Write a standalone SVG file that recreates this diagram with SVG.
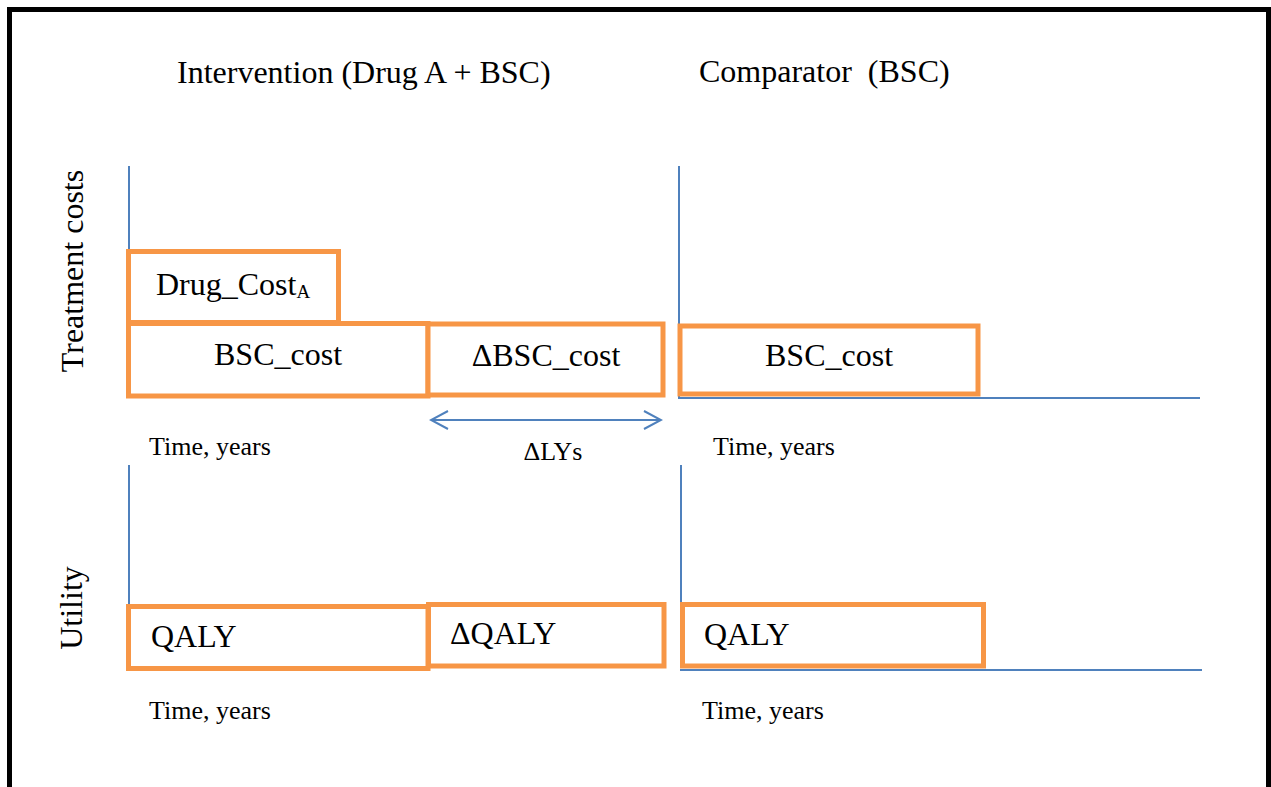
<svg xmlns="http://www.w3.org/2000/svg" width="1271" height="787" viewBox="0 0 1271 787">
  <style>
    text { font-family: "Liberation Serif", "Times New Roman", serif; fill: #000; }
    .title { font-size: 32px; }
    .axis-label { font-size: 32px; }
    .box-label { font-size: 32px; }
    .small { font-size: 26px; }
    .sub { font-size: 19px; }
    .bar { fill: #fff; stroke: #F79646; stroke-width: 5; }
    .axis { stroke: #4F81BD; stroke-width: 2; fill: none; }
  </style>
  <defs>
    <marker id="chevron" viewBox="0 0 20 20" refX="18" refY="10" markerWidth="20" markerHeight="20" markerUnits="userSpaceOnUse" orient="auto-start-reverse">
      <path d="M1,1 L18,10 L1,19" fill="none" stroke="#4F81BD" stroke-width="2"/>
    </marker>
  </defs>

  <rect x="0" y="0" width="1271" height="787" fill="#fff"/>
  <!-- outer frame (bottom edge runs past the page) -->
  <rect x="9.5" y="9.5" width="1259" height="800" fill="none" stroke="#000" stroke-width="5"/>

  <!-- column headings -->
  <text class="title" x="177" y="83">Intervention (Drug A + BSC)</text>
  <text class="title" x="699" y="82" xml:space="preserve">Comparator  (BSC)</text>

  <!-- row headings -->
  <text class="axis-label" transform="translate(83,271) rotate(-90)" text-anchor="middle">Treatment costs</text>
  <text class="axis-label" transform="translate(82,608) rotate(-90)" text-anchor="middle">Utility</text>

  <!-- axes and the LY difference arrow -->
  <g id="connectors">
    <line class="axis" x1="129" y1="166" x2="129" y2="252"/>
    <line class="axis" x1="679" y1="166" x2="679" y2="398"/>
    <line class="axis" x1="678" y1="398" x2="1200" y2="398"/>
    <line class="axis" x1="129" y1="465" x2="129" y2="606"/>
    <line class="axis" x1="681" y1="465" x2="681" y2="606"/>
    <line class="axis" x1="680" y1="670" x2="1202" y2="670"/>
    <line class="axis" x1="431" y1="420" x2="661" y2="420" marker-start="url(#chevron)" marker-end="url(#chevron)"/>
  </g>

  <!-- cost bars -->
  <g id="drug-cost-a">
    <rect class="bar" x="128.5" y="251.5" width="210" height="71"/>
    <text class="box-label" x="156" y="295">Drug_Cost<tspan class="sub" dy="3">A</tspan></text>
  </g>
  <g id="bsc-cost-intervention">
    <rect class="bar" x="128.5" y="323.5" width="299.5" height="72.5"/>
    <text class="box-label" x="278" y="365" text-anchor="middle">BSC_cost</text>
  </g>
  <g id="delta-bsc-cost">
    <rect class="bar" x="428" y="324" width="235" height="71"/>
    <text class="box-label" x="546" y="366" text-anchor="middle">ΔBSC_cost</text>
  </g>
  <g id="bsc-cost-comparator">
    <rect class="bar" x="680" y="326" width="298" height="68"/>
    <text class="box-label" x="829" y="366" text-anchor="middle">BSC_cost</text>
  </g>

  <!-- utility bars -->
  <g id="qaly-intervention">
    <rect class="bar" x="128.5" y="606.5" width="299.5" height="62"/>
    <text class="box-label" x="151" y="647">QALY</text>
  </g>
  <g id="delta-qaly">
    <rect class="bar" x="428.5" y="604.5" width="235.5" height="61.5"/>
    <text class="box-label" x="450" y="644">ΔQALY</text>
  </g>
  <g id="qaly-comparator">
    <rect class="bar" x="682.5" y="604.5" width="301" height="61.5"/>
    <text class="box-label" x="704" y="645">QALY</text>
  </g>

  <!-- time axis captions -->
  <text class="small" x="149" y="455">Time, years</text>
  <text class="small" x="713" y="455">Time, years</text>
  <text class="small" x="553" y="460" text-anchor="middle">ΔLYs</text>
  <text class="small" x="149" y="719">Time, years</text>
  <text class="small" x="702" y="719">Time, years</text>
</svg>
